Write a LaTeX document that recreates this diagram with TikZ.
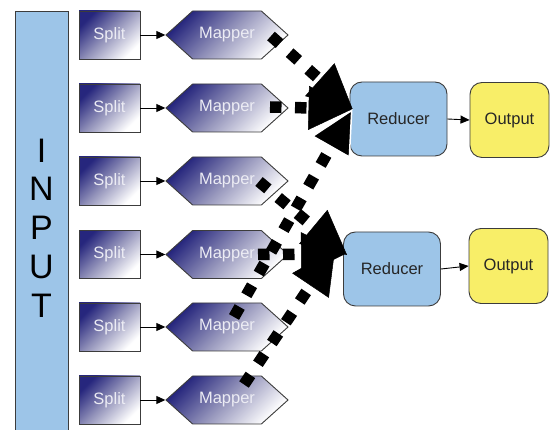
\documentclass[tikz,border=0pt]{standalone}
\usepackage{fontspec}
\setmainfont{Liberation Sans}
\usetikzlibrary{arrows.meta,shapes.symbols,calc}
\definecolor{navy}{RGB}{38,38,125}
\definecolor{midgrey}{RGB}{150,150,188}
\definecolor{skyfill}{RGB}{157,197,232}
\definecolor{yellowfill}{RGB}{248,238,104}
\definecolor{edge}{RGB}{60,60,60}
\definecolor{lighttext}{RGB}{236,236,244}
\begin{document}
\begin{tikzpicture}[x=1pt,y=-1pt,
  grad/.style={draw=edge, line width=0.9pt, shading=axis, top color=navy,
    bottom color=white, middle color=midgrey, shading angle=45},
  boxfont/.style={font=\fontsize{16.5}{19}\selectfont},
  splitbox/.style={grad, rectangle, minimum width=61pt, minimum height=48pt,
    text=lighttext, boxfont},
  mapbox/.style={grad, signal, signal to=west and east, signal pointer angle=84,
    minimum width=122pt, minimum height=48pt, inner sep=0pt, text=lighttext, boxfont},
  reducebox/.style={rectangle, rounded corners=12pt, draw=edge, line width=0.9pt,
    fill=skyfill, minimum width=97pt, minimum height=74pt, text=black!85, boxfont},
  outbox/.style={rectangle, rounded corners=12pt, draw=edge, line width=0.9pt,
    fill=yellowfill, minimum width=79pt, minimum height=75pt, text=black!85, boxfont},
  inputbar/.style={rectangle, draw=edge, line width=0.9pt, fill=skyfill,
    minimum width=53pt, minimum height=434pt, align=center,
    font=\fontsize{34}{38.8}\selectfont},
  thin/.style={line width=0.9pt, -{Triangle[length=9pt,width=8pt]}},
  flow/.style={line width=11.5pt, dash pattern=on 11.5pt off 13.5pt,
    -{Triangle[length=44pt,width=44pt,color=black,line width=0.5pt]}},
  flowcut/.style={line width=11.5pt, dash pattern=on 11.5pt off 13.5pt,
    -{Triangle[length=44pt,width=44pt,color=white,fill=black,line width=1.5pt]}}
]
\useasboundingbox (0,0) rectangle (550,430);

% input column
\node[inputbar] (inp) at (41.5,228) {I\\N\\P\\U\\T};

% splits and mappers
\foreach \i/\y in {1/35,2/108,3/181,4/254.5,5/327,6/400}{
  \node[splitbox] (s\i) at (109.5,\y) {Split};
  \node[mapbox] (m\i) at (227,\y) {Mapper};
  \draw[thin] (s\i.east) -- (m\i.west);
}

% reducers and outputs
\node[reducebox] (r1) at (398.5,119) {Reducer};
\node[reducebox] (r2) at (392,269) {Reducer};
\node[outbox] (o1) at (509.5,120) {Output};
\node[outbox] (o2) at (508.5,266) {Output};

% ends of the shuffle connectors
\coordinate (m1out) at ($(m1.center)+(44,1)$);
\coordinate (m2out) at ($(m2.center)+(43,-1)$);
\coordinate (m3out) at ($(m3.center)+(32,0.5)$);
\coordinate (m4out) at ($(m4.center)+(31,0)$);
\coordinate (m5out) at ($(m5.center)+(7,-10)$);
\coordinate (m6out) at ($(m6.center)+(17,-15.5)$);
\coordinate (r1in) at ($(r1.west)+(3,-10)$);
\coordinate (r2inA) at ($(r2.west)+(4,-14)$);
\coordinate (r2inB) at ($(r2.west)+(2,-15)$);
\coordinate (r2inC) at ($(r2.west)+(-8,-20)$);

% shuffle connectors
\draw[flow] (m1out) -- (r1in);
\draw[flow] (m2out) -- (r1in);
\draw[flowcut] (m5out) -- (r1in);
\draw[flow] (m4out) -- (r2inB);
\draw[flow] (m3out) -- (r2inA);
\draw[flow] (m6out) -- (r2inC);

% reducer to output
\draw[thin] (r1.east) -- (o1.west);
\draw[thin] (r2.east) -- (o2.west);
\end{tikzpicture}
\end{document}
